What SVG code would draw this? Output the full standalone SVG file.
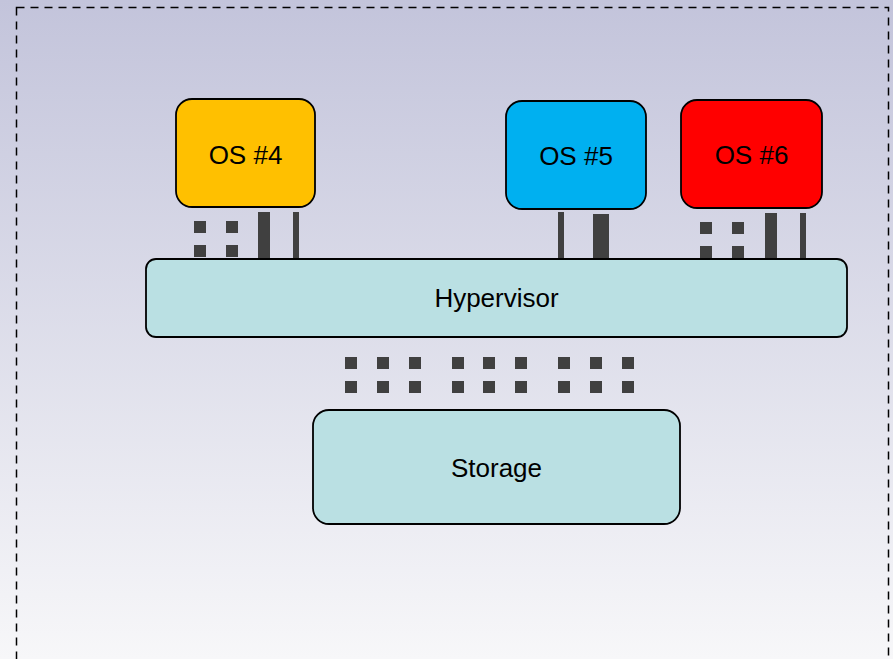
<svg xmlns="http://www.w3.org/2000/svg" width="893" height="659" viewBox="0 0 893 659">
<defs>
<linearGradient id="bg" x1="0" y1="0" x2="0" y2="1">
<stop offset="0" stop-color="#C3C4DB"/>
<stop offset="1" stop-color="#F7F7F9"/>
</linearGradient>
</defs>
<style>
.box{stroke:#000;stroke-width:1.8}
.lbl{font-family:"Liberation Sans",Arial,sans-serif;font-size:26px;fill:#000;text-anchor:middle}
.p{fill:#404040}
</style>
<rect x="0" y="0" width="893" height="659" fill="url(#bg)"/>
<rect x="16.5" y="7.5" width="872" height="700" fill="none" stroke="#000" stroke-width="1.5" stroke-dasharray="8 6"/>
<g id="connectors">
<rect class="p" x="194" y="221" width="12" height="12"/>
<rect class="p" x="194" y="245" width="12" height="12"/>
<rect class="p" x="226" y="221" width="12" height="12"/>
<rect class="p" x="226" y="245" width="12" height="12"/>
<rect class="p" x="258" y="212" width="12" height="46"/>
<rect class="p" x="293" y="212" width="6" height="46"/>
<rect class="p" x="558" y="212" width="6" height="46"/>
<rect class="p" x="593" y="214" width="16" height="46"/>
<rect class="p" x="700" y="222" width="12" height="12"/>
<rect class="p" x="700" y="246" width="12" height="12"/>
<rect class="p" x="732" y="222" width="12" height="12"/>
<rect class="p" x="732" y="246" width="12" height="12"/>
<rect class="p" x="765" y="213" width="12" height="45"/>
<rect class="p" x="800" y="213" width="6" height="45"/>
<rect class="p" x="345" y="357" width="12" height="12"/>
<rect class="p" x="377" y="357" width="12" height="12"/>
<rect class="p" x="409" y="357" width="12" height="12"/>
<rect class="p" x="452" y="357" width="12" height="12"/>
<rect class="p" x="483" y="357" width="12" height="12"/>
<rect class="p" x="515" y="357" width="12" height="12"/>
<rect class="p" x="558" y="357" width="12" height="12"/>
<rect class="p" x="590" y="357" width="12" height="12"/>
<rect class="p" x="622" y="357" width="12" height="12"/>
<rect class="p" x="345" y="381" width="12" height="12"/>
<rect class="p" x="377" y="381" width="12" height="12"/>
<rect class="p" x="409" y="381" width="12" height="12"/>
<rect class="p" x="452" y="381" width="12" height="12"/>
<rect class="p" x="483" y="381" width="12" height="12"/>
<rect class="p" x="515" y="381" width="12" height="12"/>
<rect class="p" x="558" y="381" width="12" height="12"/>
<rect class="p" x="590" y="381" width="12" height="12"/>
<rect class="p" x="622" y="381" width="12" height="12"/>
</g>
<g id="os4">
<rect class="box" x="176" y="99" width="139" height="108" rx="16" fill="#FFC000"/>
<text class="lbl" x="245.5" y="164">OS #4</text>
</g>
<g id="os5">
<rect class="box" x="506" y="101" width="140" height="108" rx="16" fill="#00B0F0"/>
<text class="lbl" x="576" y="165">OS #5</text>
</g>
<g id="os6">
<rect class="box" x="681" y="100" width="141" height="108" rx="16" fill="#FF0000"/>
<text class="lbl" x="751.5" y="164">OS #6</text>
</g>
<g id="hypervisor">
<rect class="box" x="146" y="259" width="701" height="78" rx="10" fill="#BAE0E3"/>
<text class="lbl" x="496.5" y="307">Hypervisor</text>
</g>
<g id="storage">
<rect class="box" x="313" y="410" width="367" height="114" rx="16" fill="#BAE0E3"/>
<text class="lbl" x="496.5" y="477">Storage</text>
</g>
</svg>
